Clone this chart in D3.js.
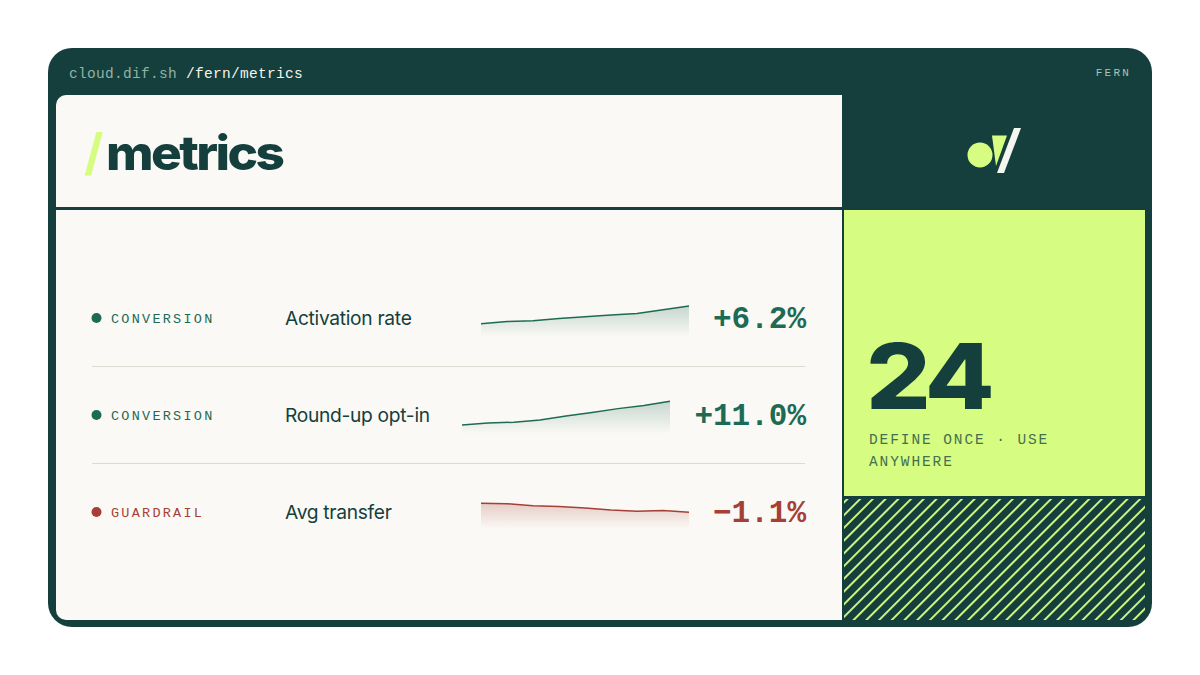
<!DOCTYPE html>
<html>
<head>
<meta charset="utf-8">
<script src="https://cdn.jsdelivr.net/npm/d3@7"></script>
<style>
  html, body { margin: 0; padding: 0; background: #fff; }
  svg { display: block; }
  text { font-family: "Liberation Mono", monospace; }
  .sans { font-family: Inter, sans-serif; }
</style>
</head>
<body>
<svg id="drawing_region"></svg>
<script>
const tags = ['CONVERSION', 'CONVERSION', 'GUARDRAIL'];
const names = ['Activation rate', 'Round-up opt-in', 'Avg transfer'];
const deltas = ['+6.2%', '+11.0%', '\u22121.1%'];
const steps = [0, 1, 2, 3, 4, 5, 6, 7, 8];
const activation = [0, 0.77, 1.0, 1.8, 2.4, 3.05, 3.57, 4.87, 6.2];
const roundUp = [0, 0.93, 1.3, 2.3, 4.2, 5.8, 7.6, 9.0, 11.0];
const avgTransfer = [0, -0.06, -0.3, -0.4, -0.57, -0.82, -0.98, -0.89, -1.1];
const series = [activation, roundUp, avgTransfer];
const hatchCaption = ['DEFINE ONCE \u00b7 USE', 'ANYWHERE'];

const DARK = '#143f3c', PAPER = '#fbf9f5', LIME = '#d6fd82', GREEN = '#1d6b55', RED = '#a63f36';

const svg = d3.select('#drawing_region').attr('width', 1200).attr('height', 675);
const defs = svg.append('defs');

// frame and panels
svg.append('rect').attr('x', 48).attr('y', 48).attr('width', 1104).attr('height', 579).attr('rx', 24).attr('fill', DARK);
svg.append('path').attr('d', 'M56 207V105a10 10 0 0 1 10-10H842V207Z').attr('fill', PAPER);
svg.append('path').attr('d', 'M56 210H842V620H66a10 10 0 0 1-10-10Z').attr('fill', PAPER);
svg.append('rect').attr('x', 844).attr('y', 210).attr('width', 301).attr('height', 286).attr('fill', LIME);

// hatch block
const hatch = defs.append('pattern').attr('id', 'hatch').attr('patternUnits', 'userSpaceOnUse')
  .attr('width', 9).attr('height', 9).attr('patternTransform', 'translate(846 499) rotate(45)');
hatch.append('rect').attr('width', 9).attr('height', 9).attr('fill', DARK);
hatch.append('rect').attr('width', 1.9).attr('height', 9).attr('fill', LIME);
svg.append('path').attr('d', 'M844 499H1145V610a10 10 0 0 1-10 10H844Z').attr('fill', 'url(#hatch)');

// top bar
const bar = svg.append('text').attr('x', 69).attr('y', 78).attr('font-size', 14.5).attr('letter-spacing', 0.3);
bar.append('tspan').attr('fill', '#8fb3a6').text('cloud.dif.sh ');
bar.append('tspan').attr('fill', '#f4f6ef').text('/fern/metrics');
svg.append('text').attr('x', 1131).attr('y', 76).attr('text-anchor', 'end').attr('font-size', 11)
  .attr('letter-spacing', 2.2).attr('fill', '#a9c4b8').text('FERN');

// title
svg.append('text').attr('class', 'sans').attr('transform', 'translate(84 170)')
  .attr('font-size', 50).attr('font-weight', 700).attr('fill', LIME).text('/');
svg.append('text').attr('class', 'sans').attr('transform', 'translate(106 170) scale(1.07 1)')
  .attr('font-size', 48).attr('font-weight', 800).attr('letter-spacing', -2.4).attr('fill', DARK).text('metrics');

// logo
svg.append('circle').attr('cx', 980).attr('cy', 155).attr('r', 12.5).attr('fill', LIME);
svg.append('path').attr('d', 'M992 135.5H1007L996 166Z').attr('fill', LIME);
svg.append('path').attr('d', 'M1014 128H1021L1004 173H997Z').attr('fill', '#f4f6ef');

// big number
svg.append('text').attr('class', 'sans').attr('transform', 'translate(866 409) scale(1.13 1)')
  .attr('font-size', 90).attr('font-weight', 800).attr('letter-spacing', -4).attr('fill', DARK).text('24');
svg.selectAll('.caption').data(hatchCaption).join('text').attr('class', 'caption')
  .attr('x', 869).attr('y', (d, i) => 444 + i * 22).attr('font-size', 14.5).attr('letter-spacing', 1.9)
  .attr('fill', '#44704f').text(d => d);

// rows
const rowY = d3.scalePoint().domain(d3.range(tags.length)).range([318, 512]);
const rowColor = [GREEN, GREEN, RED];
const sparkRight = [689, 670, 689];
const sparkTop = [306, 401.3, 503.3];
const sparkBottom = [323.7, 425, 512.3];
const sparkBase = [337, 434, 529];

tags.forEach((tag, i) => {
  const y = rowY(i);
  const color = rowColor[i];
  const values = series[i];
  const row = svg.append('g');

  row.append('circle').attr('cx', 96.5).attr('cy', y).attr('r', 5).attr('fill', color);
  row.append('text').attr('x', 111).attr('y', y + 5).attr('font-size', 13.5).attr('letter-spacing', 2.25)
    .attr('fill', color).text(tag);
  row.append('text').attr('class', 'sans').attr('x', 285).attr('y', y + 6.5).attr('font-size', 19.2)
    .attr('letter-spacing', -0.3).attr('fill', DARK).text(names[i]);
  row.append('text').attr('x', 806).attr('y', y + 10).attr('text-anchor', 'end').attr('font-size', 31)
    .attr('font-weight', 700).attr('fill', color).text(deltas[i]);

  // sparkline, each row on its own scale
  const x = d3.scaleLinear().domain(d3.extent(steps)).range([sparkRight[i] - 208, sparkRight[i]]);
  const rising = values[values.length - 1] > values[0];
  const yScale = d3.scaleLinear().domain(rising ? [0, d3.max(values)] : [0, d3.min(values)])
    .range(rising ? [sparkBottom[i], sparkTop[i]] : [sparkTop[i], sparkBottom[i]]);

  const gradId = 'spark' + i;
  const grad = defs.append('linearGradient').attr('id', gradId).attr('x1', 0).attr('x2', 0).attr('y1', 0).attr('y2', 1);
  grad.append('stop').attr('offset', '0%').attr('stop-color', color).attr('stop-opacity', 0.24);
  grad.append('stop').attr('offset', '100%').attr('stop-color', color).attr('stop-opacity', 0);

  const area = d3.area().x((d, k) => x(steps[k])).y0(sparkBase[i]).y1(d => yScale(d));
  const line = d3.line().x((d, k) => x(steps[k])).y(d => yScale(d));
  row.append('path').attr('d', area(values)).attr('fill', `url(#${gradId})`);
  row.append('path').attr('d', line(values)).attr('fill', 'none').attr('stroke', color).attr('stroke-width', 1.5);
});

// row separators
svg.selectAll('.sep').data([366.5, 463.5]).join('line').attr('class', 'sep')
  .attr('x1', 92).attr('x2', 805).attr('y1', d => d).attr('y2', d => d)
  .attr('stroke', '#dddad2').attr('stroke-width', 1);
</script>
</body>
</html>
